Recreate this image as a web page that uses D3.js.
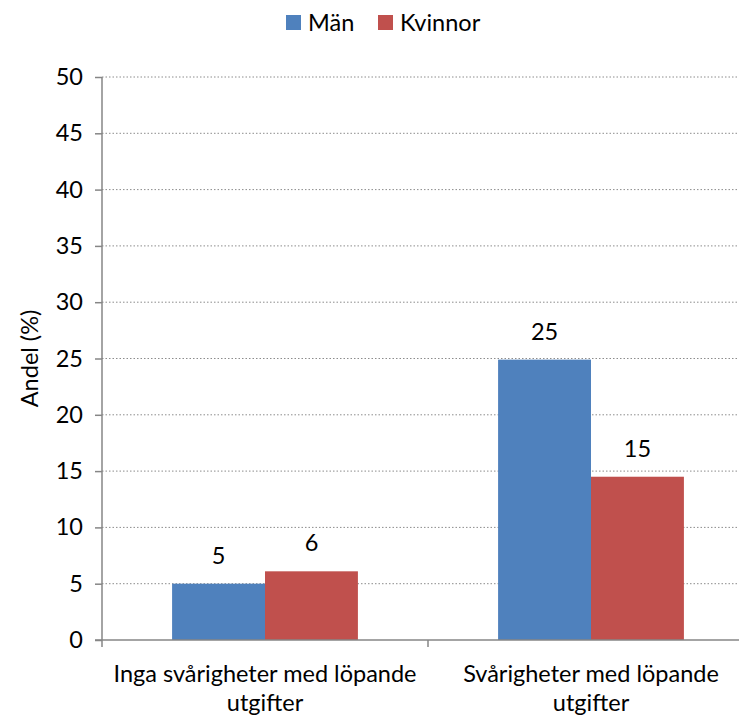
<!DOCTYPE html>
<html>
<head>
<meta charset="utf-8">
<script src="https://cdn.jsdelivr.net/npm/d3@7"></script>
<style>
  body { margin: 0; background: #fff; }
  text { font-family: Lato, "Open Sans", sans-serif; fill: #000; }
</style>
</head>
<body>
<svg class="chart" width="739" height="720"></svg>
<script>
var categories = [["Inga svårigheter med löpande", "utgifter"], ["Svårigheter med löpande", "utgifter"]];
var seriesNames = ["Män", "Kvinnor"];
var colors = ["#4f81bd", "#c0504d"];
var man = [5.0, 24.9];
var kvinnor = [6.1, 14.5];
var yTicks = [0, 5, 10, 15, 20, 25, 30, 35, 40, 45, 50];

var fs = "23.5px";

var svg = d3.select(".chart"),
    margin = {top: 77, right: -15, bottom: 80, left: 102},
    width = +svg.attr("width") - margin.left - margin.right,
    height = +svg.attr("height") - margin.top - margin.bottom;

var data = categories.map(function(c, i) {
  return {cat: i, values: [man[i], kvinnor[i]]};
});

var x0 = d3.scaleBand().domain([0, 1]).range([0, width]);
var x1 = d3.scaleBand().domain([0, 1]).range([x0.bandwidth() * 0.215, x0.bandwidth() * 0.785]);
var y = d3.scaleLinear().domain([0, 50]).range([height, 0]);

var g = svg.append("g").attr("transform", "translate(" + margin.left + "," + margin.top + ")");

// gridlines
g.append("g").selectAll("line")
  .data(yTicks.slice(1))
  .enter().append("line")
    .attr("x1", 0).attr("x2", width)
    .attr("y1", function(d) { return y(d); })
    .attr("y2", function(d) { return y(d); })
    .attr("stroke", "#8c8c8c")
    .attr("stroke-width", 1)
    .attr("stroke-dasharray", "1.5,2");

// bars
var grp = g.selectAll(".grp")
  .data(data)
  .enter().append("g")
    .attr("transform", function(d) { return "translate(" + x0(d.cat) + ",0)"; });

grp.selectAll("rect")
  .data(function(d) { return d.values; })
  .enter().append("rect")
    .attr("x", function(d, i) { return x1(i); })
    .attr("width", x1.bandwidth())
    .attr("y", function(d) { return y(d); })
    .attr("height", function(d) { return height - y(d); })
    .attr("fill", function(d, i) { return colors[i]; });

grp.selectAll(".val")
  .data(function(d) { return d.values; })
  .enter().append("text")
    .attr("class", "val")
    .attr("x", function(d, i) { return x1(i) + x1.bandwidth() / 2; })
    .attr("y", function(d) { return y(d) - 20; })
    .attr("text-anchor", "middle")
    .style("font-size", fs)
    .text(function(d) { return Math.round(d); });

// y axis
var yAxis = g.append("g")
  .call(d3.axisLeft(y).tickValues(yTicks).tickSize(7).tickPadding(12));
yAxis.select(".domain").attr("stroke", "#868686").attr("stroke-width", 1.5).attr("d", "M0,0V" + height);
yAxis.selectAll(".tick line").attr("stroke", "#868686").attr("stroke-width", 1.5);
yAxis.selectAll(".tick text").style("font-size", fs).attr("font-family", null);

// x axis
var xAxisG = g.append("g").attr("transform", "translate(0," + height + ")");
xAxisG.append("line").attr("x1", -7).attr("x2", width).attr("stroke", "#868686").attr("stroke-width", 1.5);
xAxisG.selectAll(".ctick")
  .data([0, 1, 2])
  .enter().append("line")
    .attr("x1", function(d) { return d * x0.bandwidth(); })
    .attr("x2", function(d) { return d * x0.bandwidth(); })
    .attr("y1", 0).attr("y2", 7)
    .attr("stroke", "#868686").attr("stroke-width", 1.5);

xAxisG.selectAll(".clab")
  .data(categories)
  .enter().append("text")
    .attr("x", function(d, i) { return x0(i) + x0.bandwidth() / 2; })
    .attr("y", 42)
    .attr("text-anchor", "middle")
    .style("font-size", fs)
    .each(function(d) {
      var t = d3.select(this);
      d.forEach(function(line, k) {
        t.append("tspan")
          .attr("x", t.attr("x"))
          .attr("dy", k === 0 ? 0 : 29)
          .text(line);
      });
    });

// y title
svg.append("text")
  .attr("transform", "translate(38," + (margin.top + height / 2) + ") rotate(-90)")
  .attr("text-anchor", "middle")
  .style("font-size", fs)
  .text("Andel (%)");

// legend
var legend = svg.append("g").attr("transform", "translate(286,15)");
var items = legend.selectAll("g")
  .data(seriesNames)
  .enter().append("g")
    .attr("transform", function(d, i) { return "translate(" + (i * 92) + ",0)"; });
items.append("rect").attr("width", 15).attr("height", 15)
  .attr("fill", function(d, i) { return colors[i]; });
items.append("text").attr("x", 22).attr("y", 16)
  .style("font-size", fs)
  .text(function(d) { return d; });
</script>
</body>
</html>
